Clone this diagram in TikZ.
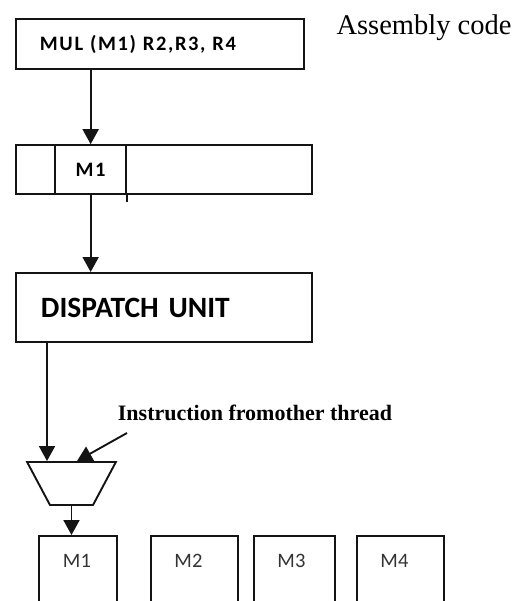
\documentclass[tikz,border=0pt]{standalone}
\usepackage{fontspec}
\setmainfont{Liberation Serif}
\setsansfont{Carlito}
\newfontfamily\codefont[LetterSpace=8]{Carlito}
\usetikzlibrary{matrix,positioning,shapes.geometric,arrows.meta}

\begin{document}
\begin{tikzpicture}[x=1pt,y=-1pt,
   box/.style={draw=black!92,line width=1.9pt,inner sep=0pt},
   mmat/.style={matrix of nodes,nodes in empty cells,column sep=-1.9pt,
     cells={nodes={draw=black!92,line width=1.9pt,minimum height=49pt,inner sep=0pt,anchor=center,
       font=\codefont\bfseries\fontsize{20.5}{22}\selectfont}},inner sep=0pt},
   arr/.style={-{Triangle[width=16pt,length=15pt]},line width=1.9pt,draw=black!92},
   unitlbl/.style={font=\sffamily\fontsize{20.5}{22}\selectfont,text=black!80}]

 \useasboundingbox (0,0) rectangle (522,601);
 \clip (0,0) rectangle (522,601);

 % instruction word
 \node[box,anchor=north west,minimum height=50pt,text width=240pt,inner xsep=24pt,align=left,
   font=\codefont\bfseries\fontsize{20.5}{22}\selectfont] (code) at (15,18) {MUL (M1) R2,R3, R4};
 \node[font=\fontsize{28.5}{30}\selectfont] (asm) at (424,28) {Assembly code};

 % decoded fields
 \matrix[mmat,anchor=north west,
   column 1/.style={nodes={minimum width=39pt}},
   column 2/.style={nodes={minimum width=71pt}},
   column 3/.style={nodes={minimum width=186pt}}] (reg) at (15,144) { & M1 & \\ };
 \draw[line width=1.9pt,black!92] (reg-1-2.south east) -- ++(0,7);

 \draw[arr] (code.south -| reg-1-2.north) -- (reg-1-2.north);

 % dispatch
 \node[box,anchor=north west,minimum height=69pt,text width=246pt,inner xsep=25pt,align=left,
   font=\sffamily\bfseries\fontsize{29.5}{31}\selectfont] (disp) at (15,272) {DISPATCH UNIT};
 \draw[arr] (reg-1-2.south) -- (disp.north -| reg-1-2.south);

 % thread selector
 \node[trapezium,draw=black!92,line width=1.9pt,shape border rotate=180,
   trapezium angle=62,minimum width=89pt,minimum height=41pt,inner sep=1pt] (mux) at (71.5,483.5) {};
 \coordinate (dout) at ([xshift=32pt]disp.south west);
 \draw[arr] (dout) -- (dout |- mux.north);

 \node[font=\bfseries\fontsize{22}{24}\selectfont] (other) at (255,413) {Instruction fromother thread};
 \coordinate (thr) at (127,433);
 \draw[arr] (thr) -- ([xshift=5.5pt]mux.north);

 % functional units
 \node[box,anchor=north west,minimum width=78pt,minimum height=90pt] (m1) at (38,535) {};
 \node[box,anchor=north west,minimum width=87pt,minimum height=90pt] (m2) at (150,535) {};
 \node[box,anchor=north west,minimum width=81pt,minimum height=90pt] (m3) at (253,535) {};
 \node[box,anchor=north west,minimum width=87pt,minimum height=90pt] (m4) at (356,535) {};

 \node[unitlbl] (l1) at ([xshift=-1pt,yshift=-26pt]m1.north) {M1};
 \node[unitlbl] (l2) at ([xshift=-6pt,yshift=-26pt]m2.north) {M2};
 \node[unitlbl] (l3) at ([xshift=-3pt,yshift=-26pt]m3.north) {M3};
 \node[unitlbl] (l4) at ([xshift=-6pt,yshift=-26pt]m4.north) {M4};

 \draw[arr] (mux.south) -- (mux.south |- m1.north);

\end{tikzpicture}
\end{document}
